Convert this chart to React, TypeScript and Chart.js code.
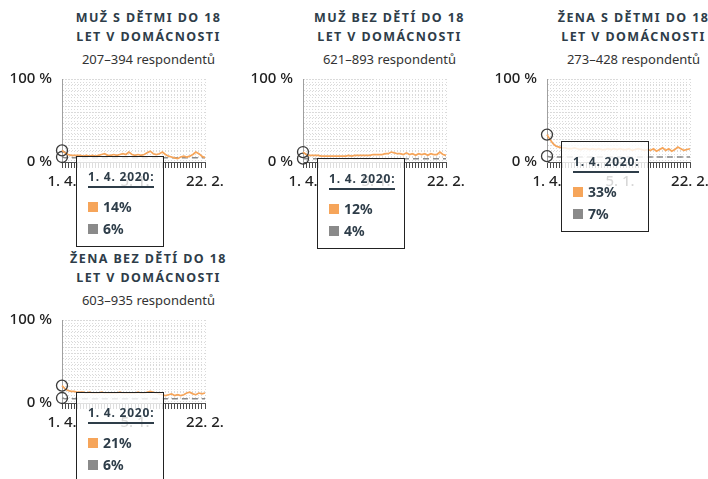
import React, { useEffect, useRef } from "react";
import { Chart, registerables } from "chart.js";
Chart.register(...registerables);

const FONT = '"Noto Sans", sans-serif';
const ORANGE = "#f6a55a";
const GRAY = "#8a8a8a";
const TEXT = "#2e3d49";

const dateLabels = [
  "1. 4.", "8. 4.", "15. 4.", "22. 4.", "29. 4.", "6. 5.", "13. 5.", "20. 5.",
  "27. 5.", "10. 6.", "24. 6.", "8. 7.", "22. 7.", "5. 8.", "19. 8.", "2. 9.",
  "16. 9.", "30. 9.", "14. 10.", "28. 10.", "11. 11.", "25. 11.", "9. 12.", "23. 12.",
  "5. 1.", "7. 1.", "9. 1.", "11. 1.", "13. 1.", "15. 1.", "18. 1.", "20. 1.",
  "22. 1.", "25. 1.", "27. 1.", "29. 1.", "1. 2.", "3. 2.", "5. 2.", "8. 2.",
  "10. 2.", "12. 2.", "14. 2.", "15. 2.", "17. 2.", "19. 2.", "21. 2.", "22. 2.",
];
const shownTickIndices = [0, 24, 47];
const yTickLabels: Record<number, string> = { 0: "0 %", 100: "100 %" };
const tooltipTitle = "1. 4. 2020:";

const titles = [
  ["MUŽ S DĚTMI DO 18", "LET V DOMÁCNOSTI"],
  ["MUŽ BEZ DĚTÍ DO 18", "LET V DOMÁCNOSTI"],
  ["ŽENA S DĚTMI DO 18", "LET V DOMÁCNOSTI"],
  ["ŽENA BEZ DĚTÍ DO 18", "LET V DOMÁCNOSTI"],
];
const subtitles = [
  "207–394 respondentů",
  "621–893 respondentů",
  "273–428 respondentů",
  "603–935 respondentů",
];

const muzSDetmiA = [14, 11, 9, 8, 8, 8, 8, 7, 8, 7, 8, 7, 8, 9, 10, 8, 8, 9, 8, 9, 10, 9, 12, 9, 8, 9, 8, 9, 11, 13, 10, 9, 10, 12, 9, 7, 6, 5, 4, 6, 7, 6, 7, 9, 12, 10, 7, 5];
const muzSDetmiB = [6, 5, 5, 5, 5, 5, 5, 5, 5, 5, 5, 5, 5, 5, 5, 5, 5, 5, 5, 5, 5, 5, 5, 5, 5, 5, 5, 5, 5, 5, 5, 5, 5, 5, 5, 5, 5, 5, 5, 5, 5, 5, 5, 5, 5, 5, 5, 5];
const muzBezDetiA = [12, 9, 8, 8, 8, 8, 7, 7, 7, 7, 7, 7, 7, 7, 7, 8, 7, 8, 8, 8, 8, 8, 8, 9, 9, 9, 9, 10, 10, 12, 11, 10, 10, 9, 11, 9, 10, 8, 10, 9, 10, 8, 10, 9, 9, 12, 9, 8];
const muzBezDetiB = [4, 4, 4, 4, 4, 4, 4, 4, 4, 4, 4, 4, 4, 4, 4, 4, 4, 4, 4, 4, 4, 4, 4, 4, 4, 4, 4, 4, 4, 4, 4, 4, 4, 4, 4, 4, 4, 4, 4, 4, 4, 4, 4, 4, 4, 4, 4, 4];
const zenaSDetmiA = [33, 27, 22, 19, 18, 17, 17, 16, 16, 17, 16, 15, 16, 16, 15, 16, 15, 16, 15, 15, 16, 15, 16, 15, 16, 15, 15, 16, 14, 15, 16, 15, 14, 15, 14, 16, 13, 15, 17, 14, 16, 13, 15, 18, 16, 14, 15, 16];
const zenaSDetmiB = [7, 6, 6, 6, 6, 6, 6, 6, 6, 6, 6, 6, 6, 6, 6, 6, 6, 6, 6, 6, 6, 6, 6, 6, 6, 6, 6, 6, 6, 6, 6, 6, 6, 6, 6, 6, 6, 6, 6, 6, 6, 6, 6, 6, 6, 6, 6, 6];
const zenaBezDetiA = [21, 17, 15, 14, 14, 13, 13, 13, 12, 13, 12, 12, 12, 13, 12, 12, 12, 12, 12, 13, 12, 12, 12, 12, 12, 13, 12, 12, 13, 14, 13, 12, 11, 10, 9, 10, 11, 9, 10, 9, 10, 12, 13, 11, 10, 12, 11, 12];
const zenaBezDetiB = [6, 5, 5, 5, 5, 5, 5, 5, 5, 5, 5, 5, 5, 5, 5, 5, 5, 5, 5, 5, 5, 5, 5, 5, 5, 5, 5, 5, 5, 5, 5, 5, 5, 5, 5, 5, 5, 5, 5, 5, 5, 5, 5, 5, 5, 5, 5, 5];

const seriesA = [muzSDetmiA, muzBezDetiA, zenaSDetmiA, zenaBezDetiA];
const seriesB = [muzSDetmiB, muzBezDetiB, zenaSDetmiB, zenaBezDetiB];

const panelLefts = [0, 241, 485, 0];
const panelTops = [0, 0, 0, 241];

const CANVAS_TOP = 60;

function Panel({ idx }: { idx: number }) {
  const canvasRef = useRef<HTMLCanvasElement | null>(null);
  const tipRef = useRef<HTMLDivElement | null>(null);
  const a = seriesA[idx];
  const b = seriesB[idx];

  useEffect(() => {
    if (!canvasRef.current) return;
    const pointRadius = (ctx: any) => (ctx.dataIndex === 0 ? 5.5 : 0);
    const chart = new Chart(canvasRef.current, {
      type: "line",
      data: {
        labels: dateLabels,
        datasets: [
          {
            data: a,
            borderColor: ORANGE,
            borderWidth: 1.7,
            tension: 0,
            pointRadius,
            pointHoverRadius: pointRadius,
            pointBorderColor: "#3a3a3a",
            pointBackgroundColor: "rgba(0,0,0,0)",
            pointBorderWidth: 1.3,
            clip: false,
          } as any,
          {
            data: b,
            borderColor: GRAY,
            borderWidth: 1.5,
            borderDash: [6, 4],
            tension: 0,
            pointRadius,
            pointHoverRadius: pointRadius,
            pointBorderColor: "#3a3a3a",
            pointBackgroundColor: "rgba(0,0,0,0)",
            pointBorderWidth: 1.3,
            clip: false,
          } as any,
        ],
      },
      options: {
        responsive: false,
        animation: false,
        events: [],
        layout: { padding: { top: 18, right: 25, left: 0, bottom: 0 } },
        plugins: {
          legend: { display: false },
          tooltip: { enabled: false },
          title: { display: false },
        },
        scales: {
          x: {
            ticks: {
              autoSkip: false,
              maxRotation: 0,
              minRotation: 0,
              padding: 5,
              color: "#222",
              font: { family: FONT, size: 15, weight: 500 as any },
              callback: (_v: any, i: number) =>
                shownTickIndices.includes(i) ? dateLabels[i] : "",
            },
            grid: {
              color: "#dadada",
              lineWidth: 1,
              tickLength: 6,
              tickColor: "#4a4a4a",
              drawOnChartArea: true,
            },
            border: { display: true, color: "#555", width: 1, dash: [1, 2] },
            afterFit: (s: any) => {
              s.height = 35;
            },
          } as any,
          y: {
            min: 0,
            max: 100,
            ticks: {
              count: 16,
              autoSkip: false,
              padding: 10,
              color: "#222",
              font: { family: FONT, size: 15, weight: 500 as any },
              callback: (v: any) => yTickLabels[Math.round(Number(v))] ?? "",
            },
            grid: { drawTicks: false, color: "#dadada", lineWidth: 1 },
            border: { display: true, color: "#a0a0a0", width: 1, dash: [1, 2] },
            afterFit: (s: any) => {
              s.width = 62;
            },
          } as any,
        },
      },
    });
    const x0 = chart.scales.x.getPixelForValue(0);
    const y0 = chart.scales.y.getPixelForValue(a[0]);
    if (tipRef.current) {
      tipRef.current.style.left = `${x0 + 14}px`;
      tipRef.current.style.top = `${CANVAS_TOP + y0 + 6}px`;
    }
    return () => chart.destroy();
  }, [idx]);

  const row = (color: string, value: number, top: number) => (
    <div style={{ position: "absolute", left: 11, top, height: 16, display: "flex", alignItems: "center" }}>
      <div style={{ width: 10, height: 10, background: color, marginRight: 5 }} />
      <span style={{ fontFamily: FONT, fontWeight: 700, fontSize: 14, lineHeight: "16px", color: TEXT }}>
        {`${value}%`}
      </span>
    </div>
  );

  return (
    <div style={{ position: "absolute", left: panelLefts[idx], top: panelTops[idx], width: 250, height: 241 }}>
      <div
        style={{
          position: "absolute",
          left: 30,
          top: 8,
          width: 237,
          textAlign: "center",
          fontFamily: FONT,
          fontWeight: 700,
          fontSize: 12.5,
          letterSpacing: 1.4,
          lineHeight: "19px",
          color: TEXT,
          whiteSpace: "nowrap",
        }}
      >
        <div>{titles[idx][0]}</div>
        <div>{titles[idx][1]}</div>
      </div>
      <div
        style={{
          position: "absolute",
          left: 30,
          top: 50,
          width: 237,
          textAlign: "center",
          fontFamily: FONT,
          fontSize: 13,
          lineHeight: "18px",
          color: "#333",
          whiteSpace: "nowrap",
        }}
      >
        {subtitles[idx]}
      </div>
      <canvas
        ref={canvasRef}
        width={230}
        height={137}
        style={{ position: "absolute", left: 0, top: CANVAS_TOP, width: 230, height: 137 }}
      />
      <div
        ref={tipRef}
        style={{
          position: "absolute",
          left: 76,
          top: 156,
          width: 88,
          height: 91,
          boxSizing: "border-box",
          border: "1px solid #222",
          background: "rgba(255,255,255,0.82)",
          zIndex: 10,
        }}
      >
        <div
          style={{
            position: "absolute",
            left: 11,
            top: 12,
            fontFamily: FONT,
            fontWeight: 700,
            fontSize: 12,
            letterSpacing: 0.8,
            lineHeight: "16px",
            color: TEXT,
            borderBottom: `2px solid ${TEXT}`,
            paddingBottom: 1,
            whiteSpace: "nowrap",
          }}
        >
          {tooltipTitle}
        </div>
        {row(ORANGE, a[0], 42)}
        {row(GRAY, b[0], 64)}
      </div>
    </div>
  );
}

export default function App() {
  return (
    <div
      style={{
        position: "fixed",
        left: 0,
        top: 0,
        width: 708,
        height: 479,
        overflow: "hidden",
        background: "#fff",
      }}
    >
      {[0, 1, 2, 3].map((i) => (
        <Panel key={i} idx={i} />
      ))}
    </div>
  );
}
